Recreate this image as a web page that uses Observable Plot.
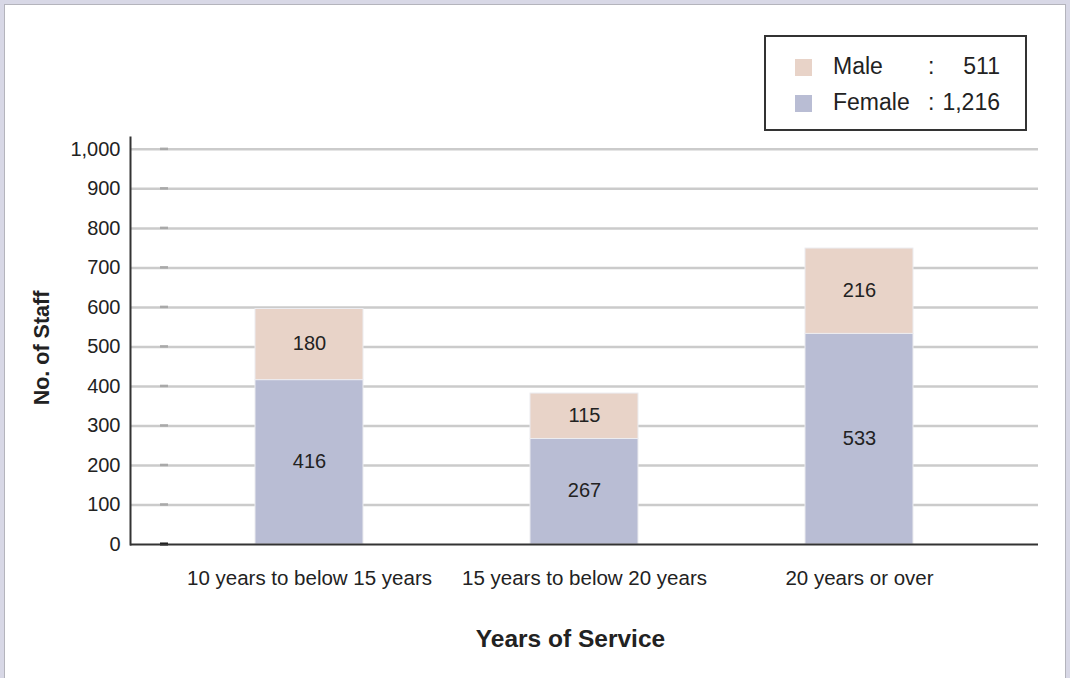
<!DOCTYPE html>
<html><head><meta charset="utf-8">
<script src="https://cdn.jsdelivr.net/npm/d3@7"></script>
<script src="https://cdn.jsdelivr.net/npm/@observablehq/plot@0.6"></script>
<style>
html,body{margin:0;padding:0;}
body{width:1070px;height:678px;overflow:hidden;background:#d8d8e6;font-family:Arial,"Liberation Sans",Helvetica,sans-serif;position:relative;}
#frame{position:absolute;left:4px;top:4px;width:1062px;height:700px;background:#fff;border:1px solid #b4b4bc;box-sizing:border-box;}
#chart{position:absolute;left:0;top:0;}
#legend{position:absolute;left:764px;top:35px;width:263px;height:96px;border:2px solid #333;box-sizing:border-box;background:#fff;color:#222;font-size:23px;}
#legend .row{position:absolute;left:0;width:100%;height:30px;}
#legend .sw{position:absolute;left:29px;top:7px;width:17px;height:17px;}
#legend .lab{position:absolute;left:67px;top:1px;}
#legend .col{position:absolute;left:162px;top:1px;}
#legend .val{position:absolute;right:25px;top:1px;text-align:right;}
</style>
</head><body>
<div id="frame"></div>
<div id="chart"></div>
<div id="legend"></div>
<script>
const categories = ["10 years to below 15 years", "15 years to below 20 years", "20 years or over"];
const series = ["Female", "Male"];
const female = [416, 267, 533];
const male = [180, 115, 216];
const totals = {Male: 511, Female: 1216};
const colors = {Female: "#b9bdd4", Male: "#e8d3c8"};
const yTicks = [0, 100, 200, 300, 400, 500, 600, 700, 800, 900, 1000];

const data = [];
categories.forEach((c, i) => {
  data.push({cat: c, sex: "Female", value: female[i]});
  data.push({cat: c, sex: "Male", value: male[i]});
});

const fmt = d3.format(",");

const stubs = (index, scales, values, dims) => {
  const g = d3.create("svg:g");
  const x0 = dims.marginLeft + 30;
  for (const t of yTicks.slice(1)) {
    g.append("line").attr("x1", x0).attr("x2", x0 + 8)
      .attr("y1", scales.y(t)).attr("y2", scales.y(t))
      .attr("stroke", "#a9a9a9").attr("stroke-width", 2.5);
  }
  g.append("line").attr("x1", x0).attr("x2", x0 + 8)
    .attr("y1", scales.y(0)).attr("y2", scales.y(0))
    .attr("stroke", "#111").attr("stroke-width", 3);
  return g.node();
};

const plot = Plot.plot({
  width: 1070,
  height: 678,
  marginLeft: 130,
  marginRight: 32,
  marginTop: 137,
  marginBottom: 134,
  style: {background: "transparent", fontFamily: "Arial, 'Liberation Sans', sans-serif", color: "#222"},
  x: {domain: categories, paddingInner: 0.608, paddingOuter: 0.452, label: null},
  y: {domain: [0, 1030], label: null},
  color: {domain: series, range: series.map(s => colors[s])},
  marks: [
    Plot.ruleY(yTicks.slice(1), {stroke: "#cbcbcb", strokeWidth: 2.5}),
    stubs,
    Plot.barY(data, Plot.stackY({x: "cat", y: "value", fill: "sex", order: series, stroke: "#ececf0", strokeWidth: 1})),
    Plot.text(data, Plot.stackY({x: "cat", y: "value", z: "sex", order: series, text: d => fmt(d.value), fontSize: 20, fill: "#222", dy: -1})),
    Plot.axisY({ticks: yTicks, tickFormat: fmt, tickSize: 0, tickPadding: 10, fontSize: 20, fill: "#222", label: null}),
    Plot.axisX({tickSize: 0, tickPadding: 26, fontSize: 20.5, fill: "#222", label: null}),
    Plot.ruleY([0], {stroke: "#333", strokeWidth: 2}),
    Plot.frame({anchor: "left", stroke: "#333", strokeWidth: 2}),
    Plot.text(["Years of Service"], {text: d => d, frameAnchor: "bottom", dx: -14, dy: 102, fontSize: 24.5, fontWeight: "bold", fill: "#222"}),
    Plot.text(["No. of Staff"], {text: d => d, frameAnchor: "left", textAnchor: "middle", rotate: -90, dx: -88, dy: 7, fontSize: 21.5, fontWeight: "bold", fill: "#222"})
  ]
});
document.getElementById("chart").appendChild(plot);

const legend = document.getElementById("legend");
["Male", "Female"].forEach((s, i) => {
  const row = document.createElement("div");
  row.className = "row";
  row.style.top = (i === 0 ? 15 : 51) + "px";
  row.innerHTML = `<div class="sw" style="background:${colors[s]}"></div><span class="lab">${s}</span><span class="col">:</span><span class="val">${fmt(totals[s])}</span>`;
  legend.appendChild(row);
});
</script>
</body></html>
